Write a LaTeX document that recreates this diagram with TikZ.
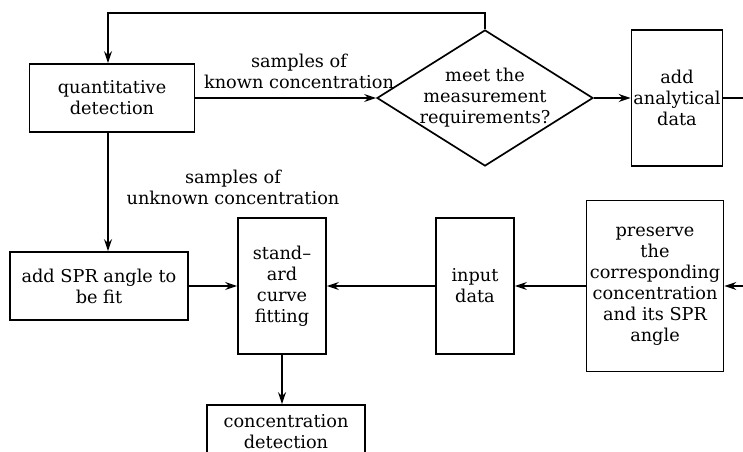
\documentclass[tikz,border=0pt]{standalone}
\usepackage{fontspec}
\setmainfont{DejaVu Serif}
\usetikzlibrary{shapes, arrows.meta, positioning}
\tikzset{
  block/.style={rectangle, draw, line width=1.2pt, align=center, inner sep=0.5pt},
  decision/.style={diamond, draw, line width=1.2pt, align=center, shape aspect=1.6, inner sep=-3pt, minimum width=5.4cm, minimum height=3.4cm},
  arrow/.style={-{Stealth[length=3mm, width=2mm]}, line width=1.2pt},
  line/.style={line width=1.2pt}
}

\begin{document}
\begin{tikzpicture}[x=0.025cm, y=-0.025cm, every node/.style={font=\fontsize{12.6}{15}\selectfont}]
  \clip (0,0) rectangle (743,452);
  % Nodes
  \node[block, minimum width=4.125cm, minimum height=1.7cm] (quant) at (112,98) {quantitative\\detection};
  \node[decision] (meet) at (485,98) {meet the\\measurement\\requirements?};
  \node[block, minimum width=2.275cm, minimum height=3.4cm] (analytic) at (677,98) {add\\analytical\\data};
  \node[block, minimum width=4.45cm, minimum height=1.7cm] (addspr) at (99,286) {add SPR angle to\\be fit};
  \node[block, minimum width=2.2cm, minimum height=3.4cm] (fitting) at (282,286) {stand–\\ard\\curve\\fitting};
  \node[block, minimum width=1.95cm, minimum height=3.4cm] (input) at (475,286) {input\\data};
  \node[block, minimum width=3.425cm, minimum height=4.275cm] (preserve) at (655,286) {preserve\\the\\corresponding\\concentration\\and its SPR\\angle};
  \node[block, minimum width=3.95cm, minimum height=1.35cm] (conc) at (286,432) {concentration\\detection};
  \node[align=center] (known) at (299,71) {samples of\\known concentration};
  \node[align=center] (unknown) at (233,187) {samples of\\unknown concentration};
  \coordinate (top) at (108,13);
  \coordinate (outA) at (743,98);
  \coordinate (inP) at (743,286);

  % Connections
  \draw[arrow] (quant) -- (meet);
  \draw[arrow] (meet) -- (analytic);
  \draw[line] (analytic) -- (outA);
  \draw[arrow] (meet.north) |- (top) -- (top |- quant.north);
  \draw[arrow] (top |- quant.south) -- (top |- addspr.north);
  \draw[arrow] (addspr) -- (fitting);
  \draw[arrow] (input) -- (fitting);
  \draw[arrow] (preserve) -- (input);
  \draw[arrow] (inP) -- (preserve);
  \draw[arrow] (fitting.south) -- (fitting.south |- conc.north);
\end{tikzpicture}
\end{document}
